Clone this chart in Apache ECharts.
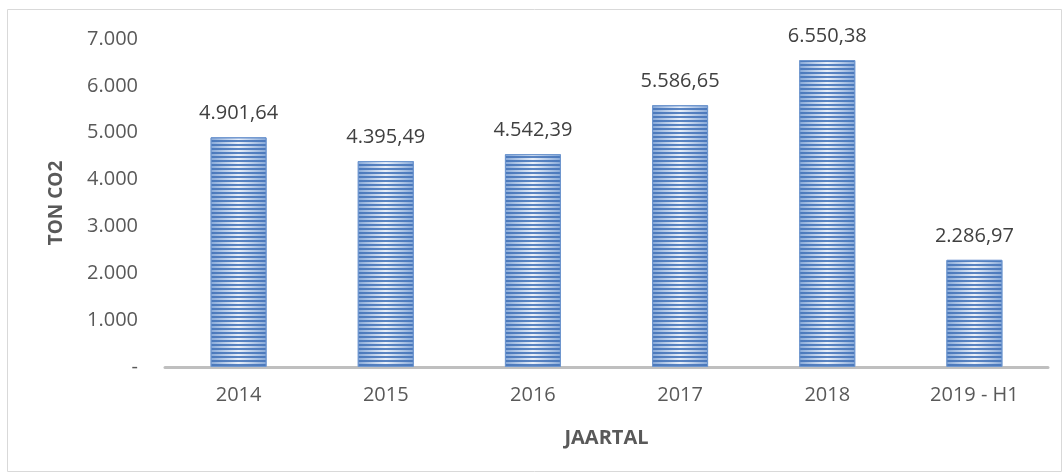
<!DOCTYPE html>
<html>
<head>
<meta charset="utf-8">
<script src="https://cdn.jsdelivr.net/npm/echarts@6/dist/echarts.min.js"></script>
<style>
  html, body { margin: 0; padding: 0; background: #fff; }
  #chart { width: 1063px; height: 474px; }
</style>
</head>
<body>
<div id="chart"></div>
<script>
// data
var categories = ["2014", "2015", "2016", "2017", "2018", "2019 - H1"];
var values = [4901.64, 4395.49, 4542.39, 5586.65, 6550.38, 2286.97];
var yTicks = { min: 0, max: 7000, interval: 1000 };

// dutch number format: 4.901,64
function nl(v, dec) {
  var s = v.toFixed(dec);
  var parts = s.split(".");
  var int = parts[0].replace(/\B(?=(\d{3})+(?!\d))/g, ".");
  return parts.length > 1 ? int + "," + parts[1] : int;
}

var chart = echarts.init(document.getElementById("chart"));
var font = "'Open Sans', sans-serif";

var option = {
  animation: false,
  textStyle: { fontFamily: font },
  grid: { left: 165, right: 15, top: 39, bottom: 107 },
  graphic: [{
    type: "rect",
    shape: { x: 7.5, y: 9.5, width: 1054, height: 462 },
    style: { fill: "none", stroke: "#d9d9d9", lineWidth: 1 }
  }],
  xAxis: {
    type: "category",
    data: categories,
    name: "JAARTAL",
    nameLocation: "middle",
    nameGap: 61,
    nameTextStyle: { fontWeight: "bold", fontSize: 20, color: "#595959", fontFamily: font },
    axisLine: { lineStyle: { color: "#bfbfbf", width: 3 } },
    axisTick: { show: false },
    axisLabel: { fontSize: 20, color: "#595959", margin: 18, fontFamily: font }
  },
  yAxis: {
    type: "value",
    min: yTicks.min,
    max: yTicks.max,
    interval: yTicks.interval,
    name: "TON CO2",
    nameLocation: "middle",
    nameRotate: 90,
    nameGap: 99,
    nameTextStyle: { fontWeight: "bold", fontSize: 19, color: "#595959", fontFamily: font },
    splitLine: { show: false },
    axisLine: { show: false },
    axisTick: { show: false },
    axisLabel: {
      fontSize: 20,
      color: "#595959",
      margin: 27,
      fontFamily: font,
      formatter: function (v) { return v === 0 ? "-" : nl(v, 0); }
    }
  },
  series: [{
    type: "bar",
    data: values,
    barWidth: 56,
    itemStyle: {
      color: {
        type: "linear", x: 0, y: 0, x2: 1, y2: 0,
        colorStops: [
          { offset: 0, color: "#86a8d8" },
          { offset: 0.5, color: "#eaf0f9" },
          { offset: 1, color: "#86a8d8" }
        ]
      },
      borderColor: "#6f97cf",
      borderWidth: 1,
      decal: {
        symbol: "rect",
        symbolSize: 1,
        color: "rgba(65, 113, 183, 0.85)",
        dashArrayX: [1, 0],
        dashArrayY: [1.5, 1.5],
        rotation: 0
      }
    },
    label: {
      show: true,
      position: "top",
      distance: 14,
      fontSize: 20,
      color: "#404040",
      fontFamily: font,
      formatter: function (p) { return nl(p.value, 2); }
    }
  }]
};

chart.setOption(option);
</script>
</body>
</html>
